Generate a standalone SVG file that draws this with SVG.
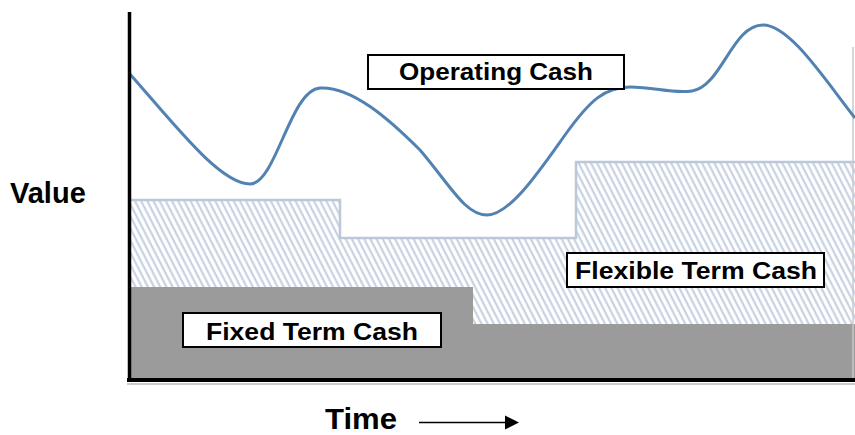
<svg xmlns="http://www.w3.org/2000/svg" width="855" height="435" viewBox="0 0 855 435">
  <style>
    .lbl { font-family: "Liberation Sans", Arial, sans-serif; font-weight: bold; fill: #000; }
    .box { fill: #fff; stroke: #000; stroke-width: 2; }
    .axis { stroke: #000; fill: none; }
  </style>
  <defs>
    <pattern id="hatch" patternUnits="userSpaceOnUse" width="5.5" height="20" patternTransform="rotate(-27)">
      <rect width="5.5" height="20" fill="#fff"/>
      <line x1="1.5" y1="0" x2="1.5" y2="20" stroke="#c3cddf" stroke-width="2"/>
    </pattern>
  </defs>
  <rect width="855" height="435" fill="#fff"/>

  <g id="flexible-area">
    <path d="M130,200 H340 V238 H576 V162 H855 V380 H130 Z" fill="url(#hatch)"/>
    <path d="M130,200 H340 V238 H576 V162 H855" fill="none" stroke="#bcc7da" stroke-width="2.5"/>
  </g>
  <g id="fixed-area">
    <path d="M130,287 H473 V324 H855 V380 H130 Z" fill="#9b9b9c"/>
  </g>
  <line x1="853" y1="47" x2="853" y2="380" stroke="#c8c8c8" stroke-width="1.5"/>

  <g id="operating-curve">
    <path d="M129,73 C175,125 220,184 250,184 C276,184 290,90 320,88 C352,86 390,120 420,150 C450,185 465,215 487,215 C510,215 540,170 565,135 C590,100 605,87 630,87 C655,87 672,94 692,91 C722,86 732,25 763,25 C790,25 825,80 855,118" fill="none" stroke="#5182b2" stroke-width="3"/>
  </g>

  <g id="axes">
    <line class="axis" x1="129.5" y1="12" x2="129.5" y2="382" stroke-width="3.5"/>
    <line x1="127" y1="384" x2="855" y2="384" stroke="#bbb" stroke-width="1.5"/>
    <line class="axis" x1="127" y1="380" x2="855" y2="380" stroke-width="4"/>
  </g>

  <g id="label-operating">
    <rect class="box" x="368" y="55" width="256" height="34"/>
    <text class="lbl" x="399" y="80" font-size="23" textLength="194" lengthAdjust="spacingAndGlyphs">Operating Cash</text>
  </g>
  <g id="label-flexible">
    <rect class="box" x="567" y="253" width="257" height="34"/>
    <text class="lbl" x="575" y="279" font-size="23" textLength="242" lengthAdjust="spacingAndGlyphs">Flexible Term Cash</text>
  </g>
  <g id="label-fixed">
    <rect class="box" x="183" y="313" width="258" height="34"/>
    <text class="lbl" x="206" y="340" font-size="23" textLength="212" lengthAdjust="spacingAndGlyphs">Fixed Term Cash</text>
  </g>

  <g id="axis-value">
    <text class="lbl" x="10" y="203" font-size="29">Value</text>
  </g>
  <g id="axis-time">
    <text class="lbl" x="325" y="429" font-size="29" textLength="72" lengthAdjust="spacingAndGlyphs">Time</text>
  </g>
  <g id="connectors">
    <line x1="419" y1="422.5" x2="507" y2="422.5" stroke="#000" stroke-width="1.5"/>
    <polygon points="505,415.5 519,422.5 505,429.5" fill="#000"/>
  </g>
</svg>
